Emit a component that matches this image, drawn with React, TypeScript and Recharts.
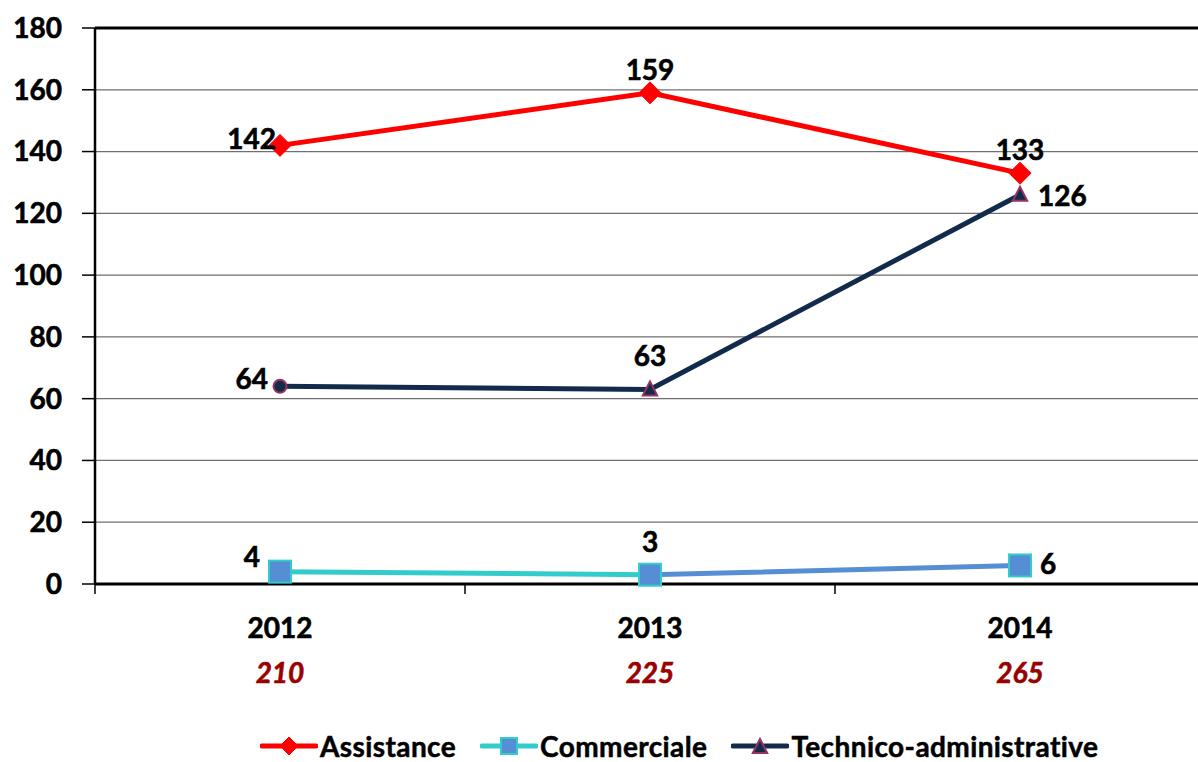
import React from "react";
import { LineChart, Line, XAxis, YAxis, CartesianGrid, ReferenceLine, Legend } from "recharts";

const categories = ["2012", "2013", "2014"];
const totals = [210, 225, 265];
const assistance = [142, 159, 133];
const commerciale = [4, 3, 6];
const technico = [64, 63, 126];
const yTicks = [0, 20, 40, 60, 80, 100, 120, 140, 160, 180];

const assistanceLabelPos = ["left", "top", "top"];
const commercialeLabelPos = ["left", "top", "right"];
const technicoLabelPos = ["left", "top", "right"];
const technicoMarkers = ["circle", "triangle", "triangle"];

const data = categories.map((c, i) => ({
  year: c,
  total: totals[i],
  assistance: assistance[i],
  commerciale: commerciale[i],
  technico: technico[i],
}));

const FONT = "Lato, 'Open Sans', sans-serif";
const WEIGHT = 700;
const RED = "#FF0000";
const CYAN = "#33CCCC";
const BLUE = "#558ED5";
const NAVY = "#132B4A";
const MAROON = "#953461";
const DARKRED = "#990000";

const CHART_W = 1210;
const CHART_H = 762;
const MARGIN = { top: 28, right: 5, left: 0, bottom: 0 };
const Y_W = 95;
const HALF_BAND = (CHART_W - MARGIN.left - MARGIN.right - Y_W) / categories.length / 2;

const makeLabel = (positions: string[], off: Record<string, [number, number]>) => (props: any) => {
  const { x, y, value, index } = props;
  const pos = positions[index] || "top";
  const [dx, dy] = off[pos];
  const anchor = pos === "left" ? "end" : pos === "right" ? "start" : "middle";
  return (
    <text
      key={`l-${index}`}
      x={x + dx}
      y={y + dy}
      textAnchor={anchor}
      dominantBaseline="central"
      fontFamily={FONT}
      fontWeight={WEIGHT}
      fontSize={28}
      fill="#000"
      stroke="#000"
      strokeWidth={0.6}
    >
      {value}
    </text>
  );
};

const Diamond = ({ cx, cy, r }: { cx: number; cy: number; r: number }) => (
  <polygon points={`${cx},${cy - r} ${cx + r},${cy} ${cx},${cy + r} ${cx - r},${cy}`} fill={RED} stroke={RED} />
);

const Square = ({ cx, cy, r }: { cx: number; cy: number; r: number }) => (
  <rect x={cx - r} y={cy - r} width={2 * r} height={2 * r} fill={BLUE} stroke={CYAN} strokeWidth={2} />
);

const Triangle = ({ cx, cy, r }: { cx: number; cy: number; r: number }) => (
  <polygon
    points={`${cx},${cy - r} ${cx + r * 0.9},${cy + r * 0.75} ${cx - r * 0.9},${cy + r * 0.75}`}
    fill={NAVY}
    stroke={MAROON}
    strokeWidth={2}
  />
);

const XTick = (props: any) => {
  const { x, y, payload, index } = props;
  const i = typeof index === "number" ? index : categories.indexOf(payload.value);
  return (
    <g>
      <line x1={x - HALF_BAND} x2={x - HALF_BAND} y1={y} y2={y + 10} stroke="#000" strokeWidth={1.5} />
      <text
        x={x}
        y={y + 43}
        textAnchor="middle"
        dominantBaseline="central"
        fontFamily={FONT}
        fontWeight={WEIGHT}
        fontSize={28}
        fill="#000"
        stroke="#000"
        strokeWidth={0.6}
      >
        {payload.value}
      </text>
      <text
        x={x}
        y={y + 88}
        textAnchor="middle"
        dominantBaseline="central"
        fontFamily={FONT}
        fontWeight={WEIGHT}
        fontStyle="italic"
        fontSize={28}
        fill={DARKRED}
        stroke={DARKRED}
        strokeWidth={0.6}
      >
        {totals[i]}
      </text>
    </g>
  );
};

const legendItems = [
  { name: "Assistance", color: RED, marker: "diamond" },
  { name: "Commerciale", color: CYAN, marker: "square" },
  { name: "Technico-administrative", color: NAVY, marker: "triangle" },
];

const renderLegend = () => (
  <div
    style={{
      height: 40,
      boxSizing: "border-box",
      paddingTop: 7,
      paddingLeft: 260,
      display: "flex",
      alignItems: "center",
      fontFamily: FONT,
      fontWeight: WEIGHT,
      fontSize: 28,
      color: "#000",
      WebkitTextStroke: "0.5px #000",
    }}
  >
    {legendItems.map((it) => (
      <div key={it.name} style={{ display: "flex", alignItems: "center", marginRight: 24 }}>
        <svg width={58} height={28} style={{ marginRight: 2 }}>
          <line x1={2} x2={56} y1={14} y2={14} stroke={it.color} strokeWidth={5} strokeLinecap="round" />
          {it.marker === "diamond" && <Diamond cx={29} cy={14} r={9} />}
          {it.marker === "square" && <Square cx={29} cy={14} r={8} />}
          {it.marker === "triangle" && <Triangle cx={29} cy={15} r={8} />}
        </svg>
        <span style={{ lineHeight: "30px", whiteSpace: "nowrap", letterSpacing: 0.4 }}>{it.name}</span>
      </div>
    ))}
  </div>
);

export default function App() {
  return (
    <div style={{ position: "absolute", left: 0, top: 0, width: 1198, height: 762, overflow: "hidden", background: "#fff" }}>
      <LineChart width={CHART_W} height={CHART_H} data={data} margin={MARGIN}>
        <defs>
          <linearGradient id="commGrad" x1="0" y1="0" x2="1" y2="0">
            <stop offset="0" stopColor={CYAN} />
            <stop offset="0.5" stopColor={CYAN} />
            <stop offset="0.5" stopColor={BLUE} />
            <stop offset="1" stopColor={BLUE} />
          </linearGradient>
        </defs>
        <CartesianGrid vertical={false} stroke="#6f6f6f" strokeWidth={1.2} />
        <XAxis
          dataKey="year"
          scale="band"
          height={138}
          axisLine={{ stroke: "#000", strokeWidth: 3 }}
          tickLine={false}
          tickSize={0}
          tickMargin={0}
          tick={<XTick />}
          interval={0}
        />
        <YAxis
          width={Y_W}
          domain={[0, 180]}
          ticks={yTicks}
          interval={0}
          axisLine={{ stroke: "#000", strokeWidth: 2.5 }}
          tickLine={{ stroke: "#000", strokeWidth: 1.5 }}
          tickSize={13}
          tickMargin={20}
          tick={{ fontFamily: FONT, fontWeight: WEIGHT, fontSize: 28, fill: "#000", stroke: "#000", strokeWidth: 0.6 }}
        />
        <ReferenceLine y={180} stroke="#000" strokeWidth={3} />
        <Legend verticalAlign="bottom" content={renderLegend} />
        <Line
          dataKey="technico"
          name="Technico-administrative"
          stroke={NAVY}
          strokeWidth={5}
          isAnimationActive={false}
          dot={(p: any) =>
            technicoMarkers[p.index] === "circle" ? (
              <circle key={`t-${p.index}`} cx={p.cx} cy={p.cy} r={6.5} fill={NAVY} stroke={MAROON} strokeWidth={2} />
            ) : (
              <g key={`t-${p.index}`}>
                <Triangle cx={p.cx} cy={p.cy} r={8} />
              </g>
            )
          }
          label={makeLabel(technicoLabelPos, { left: [-12, -8], top: [0, -34], right: [18, 0] })}
        />
        <Line
          dataKey="commerciale"
          name="Commerciale"
          stroke="url(#commGrad)"
          strokeWidth={5}
          isAnimationActive={false}
          dot={(p: any) => (
            <g key={`c-${p.index}`}>
              <Square cx={p.cx} cy={p.cy} r={11} />
            </g>
          )}
          label={makeLabel(commercialeLabelPos, { left: [-20, -16], top: [0, -34], right: [20, -2] })}
        />
        <Line
          dataKey="assistance"
          name="Assistance"
          stroke={RED}
          strokeWidth={5}
          isAnimationActive={false}
          dot={(p: any) => (
            <g key={`a-${p.index}`}>
              <Diamond cx={p.cx} cy={p.cy} r={11} />
            </g>
          )}
          label={makeLabel(assistanceLabelPos, { left: [-4, -7], top: [0, -24], right: [16, 0] })}
        />
      </LineChart>
    </div>
  );
}
